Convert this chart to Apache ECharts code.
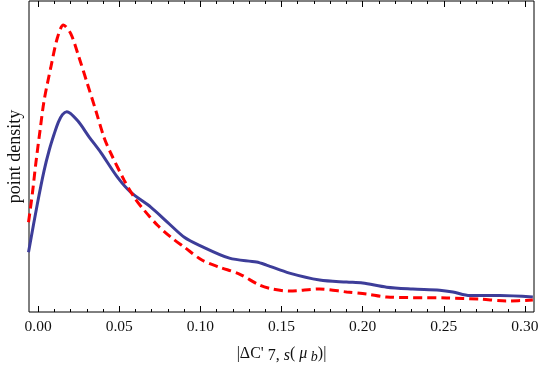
<!DOCTYPE html>
<html>
<head>
<meta charset="utf-8">
<script src="https://cdn.jsdelivr.net/npm/echarts@6/dist/echarts.min.js"></script>
<style>
  html, body { margin: 0; padding: 0; background: #fff; }
  #container { width: 540px; height: 366px; }
</style>
</head>
<body>
<div id="container"></div>
<script>
// solid blue curve
var blueX = [-0.0059, -0.0004, 0.0037, 0.0068, 0.0099, 0.0125, 0.015, 0.0177, 0.0243, 0.0315,
             0.0387, 0.049, 0.0572, 0.0696, 0.0798, 0.0901, 0.0994, 0.1179, 0.1346, 0.1407,
             0.1549, 0.1735, 0.1901, 0.2, 0.2148, 0.2309, 0.2475, 0.2556, 0.2661, 0.2846, 0.3049];
var blueY = [20, 36.3, 47.3, 54, 59.5, 63.5, 66, 67, 64, 58.5,
             53.3, 45, 40, 35, 30, 25, 22.3, 18, 16.7, 15.7,
             13, 10.7, 10, 9.7, 8.3, 7.7, 7.3, 6.7, 5.5, 5.5, 5];

// dashed red curve
var redX = [-0.0059, -0.0035, -0.0014, 0.0012, 0.0037, 0.0078, 0.0119, 0.0156, 0.0202, 0.0253,
            0.0304, 0.0356, 0.0407, 0.0449, 0.0531, 0.0593, 0.0654, 0.0736, 0.0819, 0.0901,
            0.1012, 0.1117, 0.1241, 0.1364, 0.1444, 0.1549, 0.1735, 0.1901, 0.2025, 0.2148,
            0.2519, 0.2722, 0.2889, 0.3049];
var redY = [30, 39.7, 49.7, 60.7, 70.7, 81.7, 91.7, 96, 93, 85,
            76.3, 67.3, 58.3, 53, 44, 38.3, 34, 29, 25, 21.7,
            17.3, 15, 12.7, 9, 7.7, 7, 7.7, 6.7, 6, 5,
            4.7, 4.3, 3.7, 4];

var majorTicks = [0, 0.05, 0.10, 0.15, 0.20, 0.25, 0.30];
var minorTicks = [];
for (var i = 0; i <= 30; i++) {
	if (i % 5 !== 0) minorTicks.push(i / 100);
}

var XMIN = -0.0056, XMAX = 0.3056;

function pairs(xs, ys) {
	var out = [];
	for (var i = 0; i < xs.length; i++) out.push([xs[i], ys[i]]);
	return out;
}

var serif = 'Liberation Serif';

function tickAxis(pos, values, len, showLabel) {
	return {
		type: 'value',
		position: pos,
		min: XMIN,
		max: XMAX,
		axisLine: { show: false },
		splitLine: { show: false },
		axisTick: {
			show: true, inside: true, length: len,
			customValues: values,
			lineStyle: { color: '#000', width: 1 }
		},
		axisLabel: {
			show: showLabel,
			customValues: values,
			margin: 7,
			fontFamily: serif, fontSize: 15.5, color: '#111',
			formatter: function (v) { return v.toFixed(2); }
		}
	};
}

var myChart = echarts.init(document.getElementById('container'));

var bottomMajor = tickAxis('bottom', majorTicks, 6, true);
bottomMajor.name = "{n||ΔC' }{s|7, }{si|s}{n|( }{mu|μ}{sb| b}{n|)|}";
bottomMajor.nameLocation = 'middle';
bottomMajor.nameGap = 31;
bottomMajor.nameTextStyle = {
	fontFamily: serif, fontSize: 16, color: '#111',
	rich: {
		n: { fontFamily: serif, fontSize: 16, color: '#111' },
		s: { fontFamily: serif, fontSize: 16, color: '#111', padding: [5, 0, 0, 0] },
		si: { fontFamily: serif, fontSize: 16, fontStyle: 'italic', color: '#111', padding: [5, 0, 0, 0] },
		mu: { fontFamily: serif, fontSize: 16, fontStyle: 'italic', color: '#111' },
		sb: { fontFamily: serif, fontSize: 14, fontStyle: 'italic', color: '#111', padding: [7, 0, 0, 0] }
	}
};

var option = {
	animation: false,
	grid: {
		left: 29, right: 6, top: 1, bottom: 54,
		containLabel: false,
		outerBoundsMode: 'none',
		show: true, borderColor: '#000', borderWidth: 1
	},
	xAxis: [
		bottomMajor,
		tickAxis('bottom', minorTicks, 3, false),
		tickAxis('top', majorTicks, 6, false),
		tickAxis('top', minorTicks, 3, false)
	],
	yAxis: {
		type: 'value',
		min: 0,
		max: 104,
		name: 'point density',
		nameLocation: 'middle',
		nameGap: 5,
		nameTextStyle: { fontFamily: serif, fontSize: 18, color: '#111' },
		axisLine: { show: false },
		axisTick: { show: false },
		axisLabel: { show: false },
		splitLine: { show: false }
	},
	series: [{
		name: 'blue',
		type: 'line',
		xAxisIndex: 0,
		data: pairs(blueX, blueY),
		smooth: 0.3,
		showSymbol: false,
		lineStyle: { color: '#3d3d99', width: 3 }
	}, {
		name: 'red',
		type: 'line',
		xAxisIndex: 0,
		data: pairs(redX, redY),
		smooth: 0.3,
		showSymbol: false,
		lineStyle: { color: '#ff0000', width: 3, type: [9, 5] }
	}]
};
myChart.setOption(option);
</script>
</body>
</html>
